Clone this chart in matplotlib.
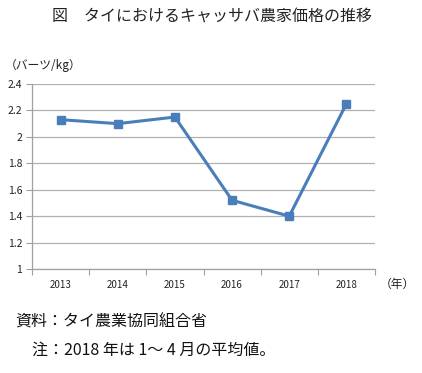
import matplotlib
matplotlib.use("Agg")
import matplotlib.pyplot as plt
import numpy as np

plt.rcParams['font.family'] = ['Noto Sans CJK JP', 'DejaVu Sans']

years = ["2013", "2014", "2015", "2016", "2017", "2018"]
prices = [2.13, 2.10, 2.15, 1.52, 1.40, 2.25]
yticks = [1, 1.2, 1.4, 1.6, 1.8, 2, 2.2, 2.4]
ytick_labels = ["1", "1.2", "1.4", "1.6", "1.8", "2", "2.2", "2.4"]

fig = plt.figure(figsize=(4.22, 3.73), dpi=100)
ax = fig.add_axes([32/422, 1-269/373, (375-32)/422, (269-84)/373])

x = np.arange(len(years))
ax.plot(x, prices, color="#4a7ebb", lw=2.2, marker="s", ms=6, mfc="#4a7ebb", mec="#4a7ebb", zorder=3)

ax.set_xlim(-0.5, len(years)-0.5)
ax.set_ylim(1, 2.4)
ax.set_yticks(yticks)
ax.set_yticklabels(ytick_labels, fontsize=7.5, color="#222222")
ax.yaxis.grid(True, color="#b0b0b0", lw=0.9)
ax.set_axisbelow(True)

ax.set_xticks(np.arange(-0.5, len(years), 1.0))
ax.set_xticklabels([])
ax.set_xticks(x, minor=True)
ax.set_xticklabels(years, minor=True, fontsize=7, color="#222222")
ax.tick_params(axis='x', which='minor', length=0, pad=8)
ax.tick_params(axis='x', which='major', length=4, color="#a0a0a0", direction='out')
ax.tick_params(axis='y', length=4, color="#a0a0a0", direction='out', pad=3)

for s in ["top", "right"]:
    ax.spines[s].set_visible(False)
for s in ["left", "bottom"]:
    ax.spines[s].set_color("#a0a0a0")
    ax.spines[s].set_linewidth(0.9)

fig.text(212/422, 1-17/373, "図　タイにおけるキャッサバ農家価格の推移", ha="center", va="center", fontsize=11.5, color="#222222")
fig.text(5/422, 1-65/373, "（バーツ/kg）", ha="left", va="center", fontsize=8.5, color="#222222")
fig.text(380/422, 1-284/373, "（年）", ha="left", va="center", fontsize=8.5, color="#222222")
fig.text(15/422, 1-322/373, "資料：タイ農業協同組合省", ha="left", va="center", fontsize=11.5, color="#111111")
fig.text(32/422, 1-350/373, "注：2018 年は 1～ 4 月の平均値。", ha="left", va="center", fontsize=11.5, color="#111111")

fig.savefig("out.png", dpi=100)
